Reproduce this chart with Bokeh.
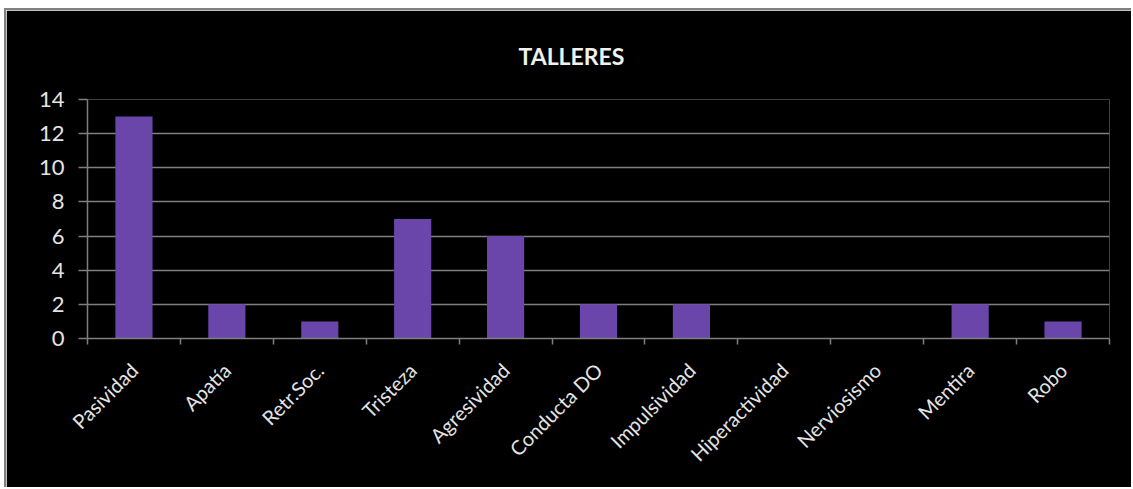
from bokeh.plotting import figure
from bokeh.models import Range1d, FactorRange, LinearAxis, FixedTicker, CustomJSTickFormatter
from bokeh.embed import file_html
from bokeh.resources import INLINE

categories = ["Pasividad", "Apatía", "Retr.Soc.", "Tristeza", "Agresividad", "Conducta DO",
              "Impulsividad", "Hiperactividad", "Nerviosismo", "Mentira", "Robo"]
values = [13, 2, 1, 7, 6, 2, 2, 0, 0, 2, 1]
y_ticks = [0, 2, 4, 6, 8, 10, 12, 14]
title_text = "TALLERES"

FONT = "Lato"
TXT = "#e4e4e4"
GRID = "#7f7f7f"

p = figure(width=1127, height=479, x_range=FactorRange(*categories), y_range=Range1d(0, 14),
           x_axis_type=None, output_backend="svg", toolbar_location=None,
           background_fill_color="black", border_fill_color="black",
           min_border_left=81, min_border_right=24, min_border_top=89, min_border_bottom=151,
           margin=(8, 0, 0, 4),
           styles={"border-top": "2px solid #808080", "border-left": "2px solid #808080"})
p.outline_line_color = None

p.title.text = title_text
p.title.align = "left"
p.title.offset = 431
p.title.text_font = FONT
p.title.text_font_style = "bold"
p.title.text_font_size = "23px"
p.title.text_color = "#f0f0f0"
p.title.standoff = 59

p.vbar(x=categories, top=values, width=0.4, fill_color="#6a46aa", line_color=None)

# x axis with ticks at category boundaries
xax = LinearAxis(ticker=FixedTicker(ticks=[i + 0.5 for i in range(len(categories))],
                                    minor_ticks=list(range(len(categories) + 1))),
                 formatter=CustomJSTickFormatter(args=dict(cats=categories),
                                                 code="return cats[Math.floor(tick)]"))
xax.axis_line_color = GRID
xax.axis_line_width = 1.5
xax.major_tick_line_color = None
xax.major_tick_out = 0
xax.minor_tick_line_color = GRID
xax.minor_tick_line_width = 1.5
xax.minor_tick_out = 6
xax.minor_tick_in = 0
xax.major_label_orientation = 0.785398
xax.major_label_text_font = FONT
xax.major_label_text_font_size = "20px"
xax.major_label_text_color = TXT
xax.major_label_standoff = 22
p.add_layout(xax, "below")

p.yaxis.ticker = FixedTicker(ticks=y_ticks)
p.yaxis.axis_line_color = GRID
p.yaxis.axis_line_width = 1.5
p.yaxis.major_tick_line_color = GRID
p.yaxis.major_tick_line_width = 1.5
p.yaxis.major_tick_out = 9
p.yaxis.major_tick_in = 0
p.yaxis.minor_tick_line_color = None
p.yaxis.major_label_text_font = FONT
p.yaxis.major_label_text_font_size = "22px"
p.yaxis.major_label_text_color = TXT
p.yaxis.major_label_standoff = 14

p.xgrid.grid_line_color = None
p.ygrid.ticker = FixedTicker(ticks=y_ticks)
p.ygrid.grid_line_color = GRID
p.ygrid.grid_line_width = 1.5

open("out.html", "w").write(file_html(p, INLINE))
